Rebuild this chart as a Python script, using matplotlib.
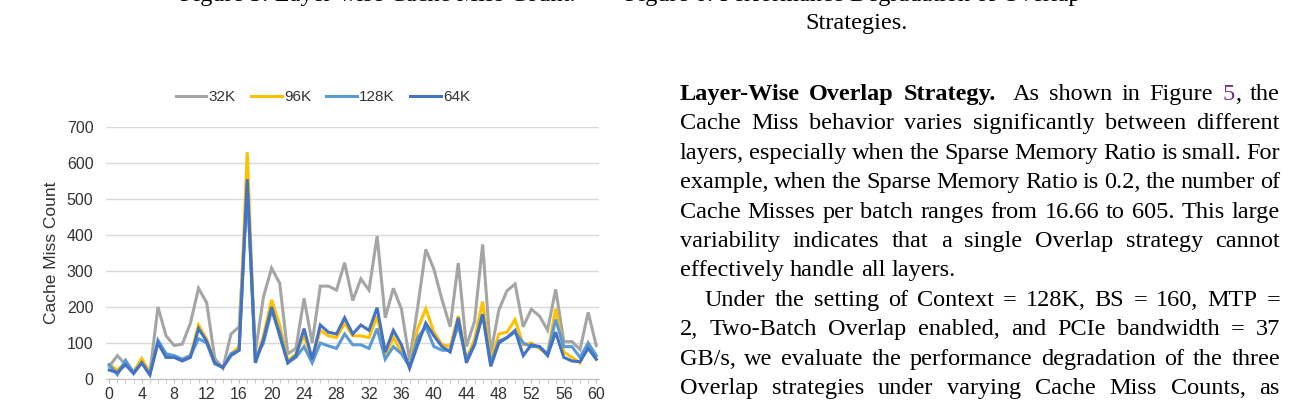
import numpy as np
import matplotlib
matplotlib.use('Agg')
import matplotlib.pyplot as plt
from matplotlib.ticker import MultipleLocator

# 1. DANE - liczba cache miss na warstwe
layers = np.arange(61)

miss_32k = [35, 65, 40, 20, 50, 15, 200, 120, 93, 97,
            155, 252, 212, 57, 30, 125, 145, 530, 75, 228,
            308, 266, 70, 85, 224, 100, 258, 258, 247, 323,
            218, 278, 247, 397, 170, 252, 194, 53, 200, 360,
            305, 220, 145, 322, 90, 160, 374, 71, 192, 245,
            264, 145, 194, 175, 136, 249, 104, 104, 82, 185,
            93]
miss_96k = [40, 25, 45, 20, 57, 18, 100, 65, 62, 55,
            65, 150, 110, 45, 32, 70, 90, 630, 45, 120,
            220, 150, 50, 70, 120, 55, 135, 120, 115, 155,
            120, 120, 115, 175, 65, 115, 75, 35, 140, 195,
            130, 95, 90, 175, 55, 110, 215, 50, 125, 130,
            165, 95, 100, 85, 70, 195, 75, 60, 45, 100,
            55]
miss_128k = [40, 12, 52, 18, 45, 12, 108, 70, 65, 55,
             65, 112, 100, 42, 32, 70, 80, 540, 55, 100,
             190, 130, 45, 60, 90, 45, 100, 92, 85, 125,
             95, 95, 85, 140, 55, 90, 70, 35, 115, 145,
             90, 80, 80, 150, 55, 95, 180, 45, 105, 115,
             130, 100, 90, 90, 70, 165, 90, 90, 60, 100,
             65]
miss_64k = [25, 18, 40, 15, 45, 12, 100, 60, 60, 50,
            60, 140, 105, 45, 32, 65, 80, 555, 45, 110,
            200, 120, 45, 65, 140, 55, 150, 130, 125, 170,
            125, 150, 135, 198, 75, 135, 95, 30, 95, 155,
            120, 90, 75, 170, 45, 95, 180, 35, 100, 115,
            135, 65, 95, 90, 65, 130, 60, 50, 48, 85,
            55]

series = [('32K', miss_32k, '#A5A5A5'),
          ('96K', miss_96k, '#FFC000'),
          ('128K', miss_128k, '#5B9BD5'),
          ('64K', miss_64k, '#4472C4')]

# tekst artykulu po prawej stronie
body_lines = [
    "Layer-Wise Overlap Strategy.  As shown in Figure 5, the",
    "Cache Miss behavior varies significantly between different",
    "layers, especially when the Sparse Memory Ratio is small. For",
    "example, when the Sparse Memory Ratio is 0.2, the number of",
    "Cache Misses per batch ranges from 16.66 to 605. This large",
    "variability indicates that a single Overlap strategy cannot",
    "effectively handle all layers.",
    "Under the setting of Context = 128K, BS = 160, MTP =",
    "2, Two-Batch Overlap enabled, and PCIe bandwidth = 37",
    "GB/s, we evaluate the performance degradation of the three",
    "Overlap strategies under varying Cache Miss Counts, as",
]

W, H = 1300, 405
fig = plt.figure(figsize=(W / 100, H / 100), dpi=100)

def fx(px):
    return px / W

def fy(py):
    return 1 - py / H

# 2. WYKRES
ax = fig.add_axes([fx(106), fy(379), 492.7 / W, 252 / H])
for name, vals, col in series:
    ax.plot(layers, vals, color=col, lw=2.2, label=name, solid_joinstyle='miter')

ax.set_xlim(-0.4, 60.3)
ax.set_ylim(0, 700)
ax.yaxis.set_major_locator(MultipleLocator(100))
ax.xaxis.set_major_locator(MultipleLocator(4))
ax.xaxis.set_minor_locator(MultipleLocator(1))
ax.yaxis.grid(True, color='#D9D9D9', linewidth=1)
ax.set_axisbelow(True)
for s in ['top', 'right', 'left']:
    ax.spines[s].set_visible(False)
ax.spines['bottom'].set_color('#BFBFBF')
ax.tick_params(axis='x', which='both', length=3, color='#BFBFBF', pad=3,
               labelsize=11.5, labelcolor='#333333')
ax.tick_params(axis='y', length=0, pad=9, labelsize=11.5, labelcolor='#333333')
for lab in ax.get_xticklabels() + ax.get_yticklabels():
    lab.set_fontfamily('Liberation Sans')

fig.text(fx(52), fy(253), 'Cache Miss Count', rotation=90, ha='center', va='center',
         fontsize=12.5, family='Liberation Sans', color='#333333')

leg = ax.legend(loc='center', bbox_to_anchor=(fx(323), fy(97)), bbox_transform=fig.transFigure,
                ncol=4, frameon=False, handlelength=2.0, handletextpad=0.15,
                columnspacing=1.0, prop={'family': 'Liberation Sans', 'size': 11})
for t in leg.get_texts():
    t.set_color('#333333')

# 3. TEKST (wyjustowany, slowo po slowie)
body_font = 'Liberation Serif'
fs = 17.5
link = '#7B2A8C'
r = fig.canvas.get_renderer()

def word_pieces(line_no, k, word):
    if line_no == 0 and k < 3:
        return [(word, 'black', 'bold')]
    if line_no == 0 and word == '5,':
        return [('5', link, 'normal'), (',', 'black', 'normal')]
    return [(word, 'black', 'normal')]

def put_line(line_no, text, base_y, x0, x1, justify=True):
    words = text.split(' ')
    items = []
    extra = []
    k = 0
    for w in words:
        if w == '':
            extra.append(len(items) - 1)
            continue
        pcs = []
        for s, c, wt in word_pieces(line_no, k, w):
            t = fig.text(0, fy(base_y), s, color=c, fontweight=wt, family=body_font,
                         fontsize=fs, va='baseline', ha='left')
            pcs.append((t, t.get_window_extent(r).width))
        items.append(pcs)
        k += 1
    widths = [sum(p[1] for p in pcs) for pcs in items]
    quad = 0.3 * fs * 100 / 72
    if justify:
        gap = (x1 - x0 - sum(widths) - quad * len(extra)) / (len(items) - 1)
    else:
        gap = 0.25 * fs * 100 / 72
    x = x0
    for i, pcs in enumerate(items):
        xx = x
        for t, wpx in pcs:
            t.set_x(fx(xx))
            xx += wpx
        x += widths[i] + gap + (quad if i in extra else 0)

base0 = 100
step = 29.4
for i, line in enumerate(body_lines):
    x0 = 705 if i == 7 else 680
    put_line(i, line, base0 + i * step, x0, 1280, justify=(i != 6))

# podpisy rysunkow (uciete u gory strony, widac tylko dolne kreski liter)
fig.text(fx(180), fy(0.5), 'Figure 5: Layer-wise Cache Miss Count.',
         family=body_font, fontsize=fs, va='baseline')
fig.text(fx(625), fy(0.5), 'Figure 6: Performance Degradation of Overlap',
         family=body_font, fontsize=fs, va='baseline')
fig.text(fx(857), fy(29), 'Strategies.', family=body_font, fontsize=fs,
         va='baseline', ha='center')

plt.savefig('out.png', dpi=100)
